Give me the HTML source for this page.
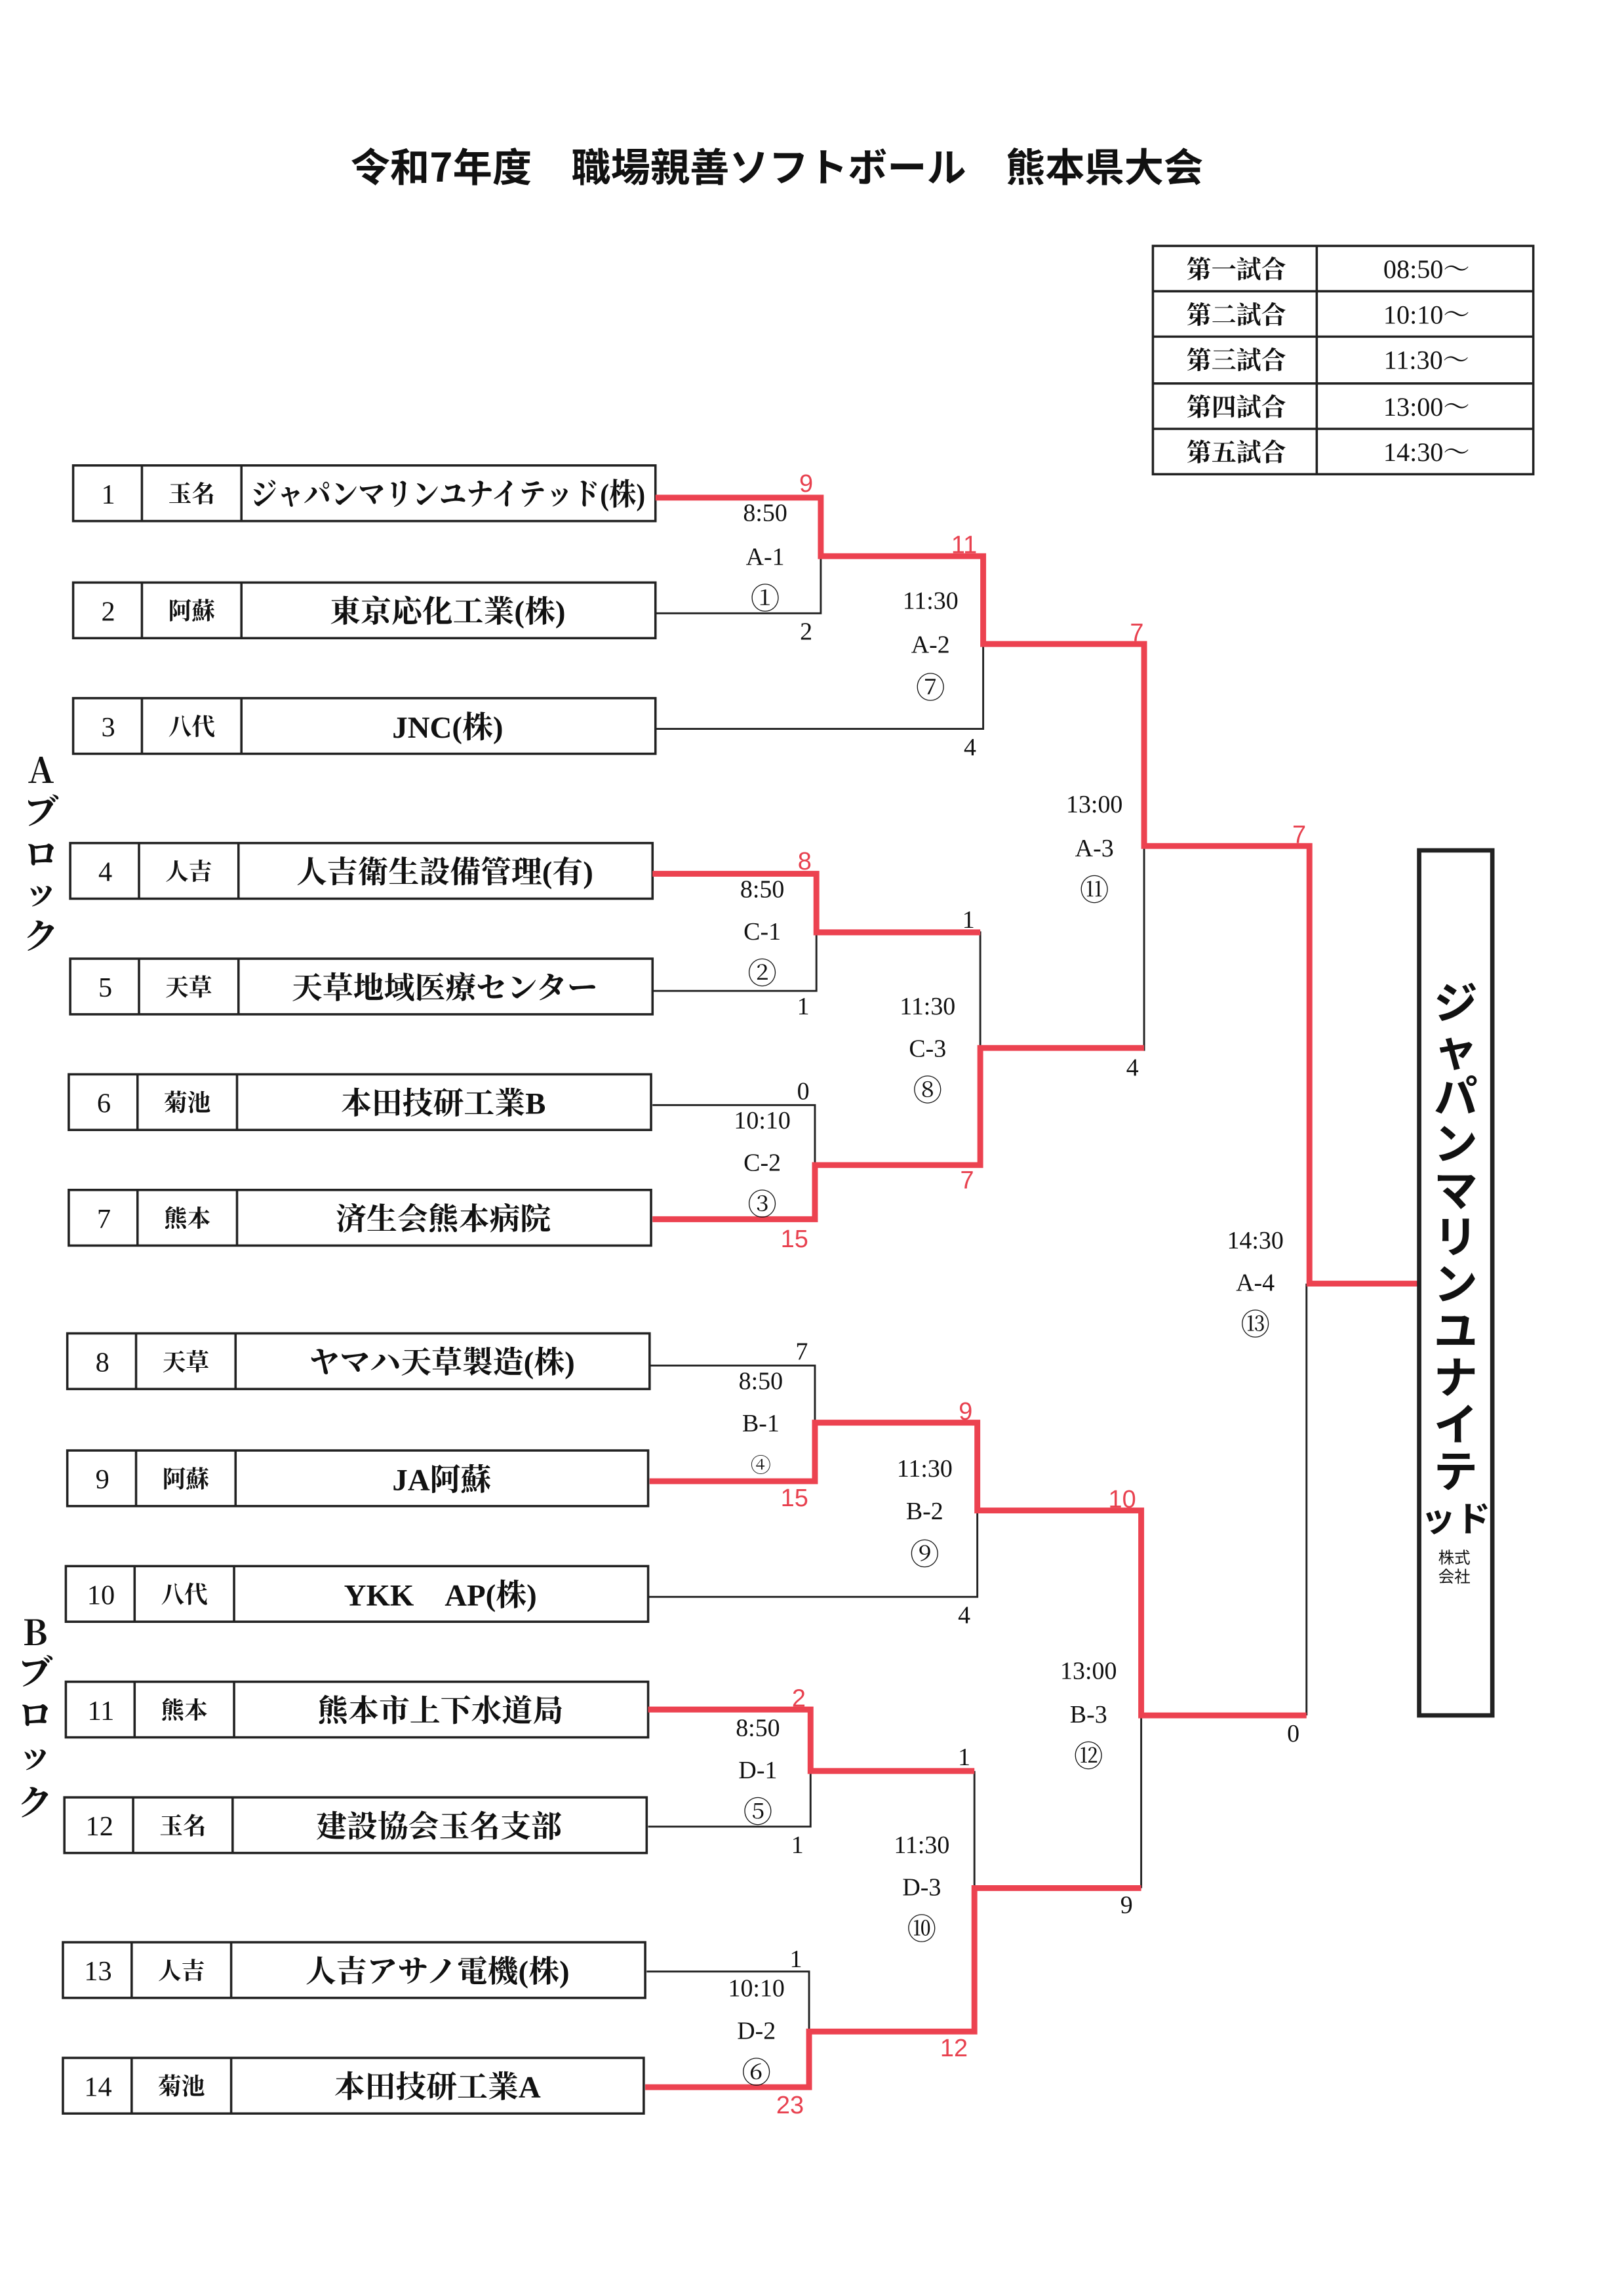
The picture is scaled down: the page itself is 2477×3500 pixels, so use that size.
<!DOCTYPE html>
<html><head><meta charset="utf-8"><style>
html,body{margin:0;padding:0;background:#fff}
svg{display:block}
.n{font-family:"Liberation Serif","Noto Serif CJK SC",serif;font-size:17px;text-anchor:middle;fill:#111}
.c{font-size:20px}
.r{fill:#e8414f;font-family:"Liberation Sans",sans-serif;font-size:17px;text-anchor:middle}
.t{font-family:"Liberation Serif","Noto Serif CJK SC",serif;font-weight:bold;font-size:21px;text-anchor:middle;fill:#111}
.p{font-family:"Noto Serif CJK SC",serif;font-weight:bold;font-size:16px;text-anchor:middle;fill:#111}
.bl{stroke:#222;stroke-width:1.3;fill:none}
.rd{stroke:#ec4250;stroke-width:4;fill:none;stroke-linejoin:miter}
.box{stroke:#222;stroke-width:1.6;fill:none}
</style></head><body>
<svg width="2477" height="3500" viewBox="0 0 1110 1568" preserveAspectRatio="none" xmlns="http://www.w3.org/2000/svg">
<text x="531" y="124" style="font-family:'Noto Sans CJK SC',sans-serif;font-weight:bold;font-size:27px;text-anchor:middle;fill:#111">令和7年度　職場親善ソフトボール　熊本県大会</text>

<g class="box"><rect x="788" y="168" width="260" height="156"/>
<line x1="900" y1="168" x2="900" y2="324"/>
<line x1="788" y1="199" x2="1048" y2="199"/><line x1="788" y1="230" x2="1048" y2="230"/>
<line x1="788" y1="262" x2="1048" y2="262"/><line x1="788" y1="293" x2="1048" y2="293"/></g>
<g style="font-family:'Noto Serif CJK SC',serif;font-weight:bold;font-size:17px;text-anchor:middle;fill:#111">
<text x="845" y="190">第一試合</text><text x="845" y="221">第二試合</text><text x="845" y="252">第三試合</text><text x="845" y="284">第四試合</text><text x="845" y="315">第五試合</text></g>
<g style="font-family:'Liberation Serif','Noto Serif CJK SC',serif;font-size:18px;text-anchor:middle;fill:#111">
<text x="975" y="190">08:50～</text><text x="975" y="221">10:10～</text><text x="975" y="252">11:30～</text><text x="975" y="284">13:00～</text><text x="975" y="315">14:30～</text></g>

<g id="teams">
<g class="box">
<rect x="50" y="318" width="398" height="38"/><line x1="97" y1="318" x2="97" y2="356"/><line x1="165" y1="318" x2="165" y2="356"/>
<rect x="50" y="398" width="398" height="38"/><line x1="97" y1="398" x2="97" y2="436"/><line x1="165" y1="398" x2="165" y2="436"/>
<rect x="50" y="477" width="398" height="38"/><line x1="97" y1="477" x2="97" y2="515"/><line x1="165" y1="477" x2="165" y2="515"/>
<rect x="48" y="576" width="398" height="38"/><line x1="95" y1="576" x2="95" y2="614"/><line x1="163" y1="576" x2="163" y2="614"/>
<rect x="48" y="655" width="398" height="38"/><line x1="95" y1="655" x2="95" y2="693"/><line x1="163" y1="655" x2="163" y2="693"/>
<rect x="47" y="734" width="398" height="38"/><line x1="94" y1="734" x2="94" y2="772"/><line x1="162" y1="734" x2="162" y2="772"/>
<rect x="47" y="813" width="398" height="38"/><line x1="94" y1="813" x2="94" y2="851"/><line x1="162" y1="813" x2="162" y2="851"/>
<rect x="46" y="911" width="398" height="38"/><line x1="93" y1="911" x2="93" y2="949"/><line x1="161" y1="911" x2="161" y2="949"/>
<rect x="46" y="991" width="397" height="38"/><line x1="93" y1="991" x2="93" y2="1029"/><line x1="161" y1="991" x2="161" y2="1029"/>
<rect x="45" y="1070" width="398" height="38"/><line x1="92" y1="1070" x2="92" y2="1108"/><line x1="160" y1="1070" x2="160" y2="1108"/>
<rect x="45" y="1149" width="398" height="38"/><line x1="92" y1="1149" x2="92" y2="1187"/><line x1="160" y1="1149" x2="160" y2="1187"/>
<rect x="44" y="1228" width="398" height="38"/><line x1="91" y1="1228" x2="91" y2="1266"/><line x1="159" y1="1228" x2="159" y2="1266"/>
<rect x="43" y="1327" width="398" height="38"/><line x1="90" y1="1327" x2="90" y2="1365"/><line x1="158" y1="1327" x2="158" y2="1365"/>
<rect x="43" y="1406" width="397" height="38"/><line x1="90" y1="1406" x2="90" y2="1444"/><line x1="158" y1="1406" x2="158" y2="1444"/>
</g>
<g class="n" style="font-size:19px">
<text x="74" y="344">1</text><text x="74" y="424">2</text><text x="74" y="503">3</text><text x="72" y="602">4</text><text x="72" y="681">5</text><text x="71" y="760">6</text><text x="71" y="839">7</text>
<text x="70" y="937">8</text><text x="70" y="1017">9</text><text x="69" y="1096">10</text><text x="69" y="1175">11</text><text x="68" y="1254">12</text><text x="67" y="1353">13</text><text x="67" y="1432">14</text></g>
<g class="p">
<text x="131" y="343">玉名</text><text x="131" y="423">阿蘇</text><text x="131" y="502">八代</text><text x="129" y="601">人吉</text><text x="129" y="680">天草</text><text x="128" y="759">菊池</text><text x="128" y="838">熊本</text>
<text x="127" y="936">天草</text><text x="127" y="1016">阿蘇</text><text x="126" y="1095">八代</text><text x="126" y="1174">熊本</text><text x="125" y="1253">玉名</text><text x="124" y="1352">人吉</text><text x="124" y="1431">菊池</text></g>
<g class="t">
<text x="306" y="345" textLength="270" lengthAdjust="spacingAndGlyphs">ジャパンマリンユナイテッド(株)</text>
<text x="306" y="425">東京応化工業(株)</text>
<text x="306" y="504">JNC(株)</text>
<text x="304" y="603">人吉衛生設備管理(有)</text>
<text x="304" y="682">天草地域医療センター</text>
<text x="303" y="761">本田技研工業B</text>
<text x="303" y="840">済生会熊本病院</text>
<text x="302" y="938">ヤマハ天草製造(株)</text>
<text x="302" y="1018">JA阿蘇</text>
<text x="301" y="1097">YKK　AP(株)</text>
<text x="301" y="1176">熊本市上下水道局</text>
<text x="300" y="1255">建設協会玉名支部</text>
<text x="299" y="1354">人吉アサノ電機(株)</text>
<text x="299" y="1433">本田技研工業A</text>
</g>
</g>

<g style="font-family:'Noto Serif CJK SC',serif;font-weight:bold;font-size:24px;text-anchor:middle;fill:#111">
<text x="28" y="535">A</text><text x="28" y="563">ブ</text><text x="28" y="592">ロ</text><text x="28" y="618">ッ</text><text x="28" y="648">ク</text>
<text x="24" y="1124">B</text><text x="24" y="1151">ブ</text><text x="24" y="1180">ロ</text><text x="24" y="1208">ッ</text><text x="24" y="1240">ク</text>
</g>

<g class="bl">
<polyline points="448,419 561,419 561,380"/>
<polyline points="448,498 672,498 672,440"/>
<polyline points="782,578 782,718"/>
<polyline points="446,677 558,677 558,637"/>
<polyline points="558,637 670,637 670,716"/>
<polyline points="446,755 557,755 557,796"/>
<polyline points="893,877 893,1172"/>
<polyline points="444,933 557,933 557,972"/>
<polyline points="443,1091 668,1091 668,1032"/>
<polyline points="780,1172 780,1290"/>
<polyline points="443,1248 554,1248 554,1210"/>
<polyline points="666,1210 666,1290"/>
<polyline points="442,1347 553,1347 553,1388"/>
</g>
<g class="rd">
<polyline points="448,340 561,340 561,380 672,380 672,440 782,440 782,578 895,578 895,877 970,877"/>
<polyline points="446,597 558,597 558,637 670,637"/>
<polyline points="446,833 557,833 557,796 670,796 670,716 782,716"/>
<polyline points="444,1012 557,1012 557,972 668,972 668,1032 780,1032 780,1172 893,1172"/>
<polyline points="443,1168 554,1168 554,1210 666,1210"/>
<polyline points="441,1426 553,1426 553,1388 666,1388 666,1290 780,1290"/>
</g>

<g class="n">
<text x="523" y="356">8:50</text><text x="523" y="386">A-1</text><text class="c" x="523" y="416">①</text><text x="551" y="437">2</text>
<text x="636" y="416">11:30</text><text x="636" y="446">A-2</text><text class="c" x="636" y="477">⑦</text><text x="663" y="516">4</text>
<text x="748" y="555">13:00</text><text x="748" y="585">A-3</text><text class="c" x="748" y="615">⑪</text><text x="774" y="735">4</text>
<text x="521" y="613">8:50</text><text x="521" y="642">C-1</text><text class="c" x="521" y="672">②</text><text x="549" y="693">1</text><text x="662" y="634">1</text>
<text x="634" y="693">11:30</text><text x="634" y="722">C-3</text><text class="c" x="634" y="752">⑧</text>
<text x="549" y="751">0</text><text x="521" y="771">10:10</text><text x="521" y="800">C-2</text><text class="c" x="521" y="830">③</text>
<text x="858" y="853">14:30</text><text x="858" y="882">A-4</text><text class="c" x="858" y="912">⑬</text><text x="884" y="1190">0</text>
<text x="548" y="929">7</text><text x="520" y="949">8:50</text><text x="520" y="978">B-1</text><text x="520" y="1006" style="font-size:14px">④</text>
<text x="632" y="1009">11:30</text><text x="632" y="1038">B-2</text><text class="c" x="632" y="1069">⑨</text><text x="659" y="1109">4</text>
<text x="744" y="1147">13:00</text><text x="744" y="1177">B-3</text><text class="c" x="744" y="1207">⑫</text><text x="770" y="1307">9</text>
<text x="518" y="1186">8:50</text><text x="518" y="1215">D-1</text><text class="c" x="518" y="1245">⑤</text><text x="545" y="1266">1</text><text x="659" y="1206">1</text>
<text x="630" y="1266">11:30</text><text x="630" y="1295">D-3</text><text class="c" x="630" y="1325">⑩</text>
<text x="544" y="1344">1</text><text x="517" y="1364">10:10</text><text x="517" y="1393">D-2</text><text class="c" x="517" y="1423">⑥</text>
</g>
<g class="r">
<text x="551" y="336">9</text><text x="659" y="378">11</text><text x="777" y="438">7</text><text x="888" y="576">7</text>
<text x="550" y="594">8</text><text x="661" y="812">7</text><text x="543" y="852">15</text>
<text x="660" y="970">9</text><text x="543" y="1029">15</text><text x="767" y="1030">10</text>
<text x="546" y="1166">2</text><text x="652" y="1405">12</text><text x="540" y="1444">23</text>
</g>

<rect x="970" y="581" width="50" height="591" fill="none" stroke="#222" stroke-width="3"/>
<g style="font-family:'Noto Sans CJK JP',sans-serif;font-weight:bold;font-size:30px;text-anchor:middle;fill:#111">
<text x="995" y="696">ジ</text><text x="995" y="728">ャ</text><text x="995" y="760">パ</text><text x="995" y="792">ン</text><text x="995" y="824">マ</text><text x="995" y="856">リ</text><text x="995" y="888">ン</text><text x="995" y="920">ユ</text><text x="995" y="952">ナ</text><text x="995" y="984">イ</text><text x="995" y="1016">テ</text>
<text x="995" y="1046" style="font-size:24px">ッド</text></g>
<g style="font-family:'Noto Sans CJK JP',sans-serif;font-size:11px;text-anchor:middle;fill:#111">
<text x="994" y="1068">株式</text><text x="994" y="1081">会社</text></g>
</svg>
</body></html>
